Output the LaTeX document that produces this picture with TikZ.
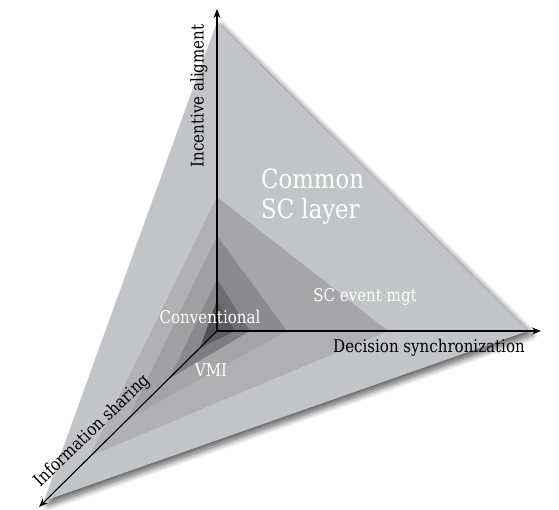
\documentclass[tikz,border=0pt]{standalone}
\usepackage{fontspec}
\setmainfont{DejaVu Serif}[FakeStretch=0.86]
\usetikzlibrary{arrows.meta,shadows.blur}

% shades of the nested layers, per face
\definecolor{lay1}{HTML}{C3C4C7}
\definecolor{ur2}{HTML}{A6A6A9}
\definecolor{ur3}{HTML}{8B8A8E}
\definecolor{ur4}{HTML}{6E6D71}
\definecolor{ur5}{HTML}{5A595D}
\definecolor{lf2}{HTML}{B1B1B4}
\definecolor{lf3}{HTML}{A0A0A3}
\definecolor{lf4}{HTML}{8A8A8D}
\definecolor{lf5}{HTML}{515054}
\definecolor{lo2}{HTML}{B0B0B3}
\definecolor{lo3}{HTML}{A5A5A8}
\definecolor{lo4}{HTML}{7E7E81}
\definecolor{lo5}{HTML}{5E5D61}

\tikzset{
  axis/.style={line width=1.1pt, -{Stealth[length=9pt,width=7pt]}},
  axislabel/.style={font=\fontsize{17.5}{20}\selectfont, text=black, inner sep=0pt},
  layerlabel/.style={font=\fontsize{17.5}{20}\selectfont, text=white, inner sep=0pt},
  biglabel/.style={font=\fontsize{26.5}{30}\selectfont, text=white, inner sep=0pt, align=left},
}

\begin{document}
\begin{tikzpicture}[x=1pt,y=-1pt]
\useasboundingbox (0,0) rectangle (559,510);

% axis origin and layer corners (top, right, lower-left)
\coordinate (O) at (217,331);
\coordinate (T1) at (217,22);  \coordinate (R1) at (528,331); \coordinate (D1) at (44,501);
\coordinate (T2) at (217,197); \coordinate (R2) at (388,331); \coordinate (D2) at (90,456);
\coordinate (T3) at (217,236); \coordinate (R3) at (287,331); \coordinate (D3) at (128,419);
\coordinate (T4) at (217,279); \coordinate (R4) at (250,331); \coordinate (D4) at (170,378);
\coordinate (T5) at (217,300); \coordinate (R5) at (235,331); \coordinate (D5) at (200,348);

% outer layer with its soft shadow
\fill[lay1, blur shadow={shadow xshift=4pt, shadow yshift=-4pt, shadow blur radius=6pt,
      shadow blur steps=12, shadow opacity=65}] (T1) -- (R1) -- (D1) -- cycle;

% inner layers, one face at a time
\foreach \i in {2,...,5}{
  \fill[ur\i] (O) -- (T\i) -- (R\i) -- cycle;
  \fill[lf\i] (O) -- (T\i) -- (D\i) -- cycle;
  \fill[lo\i] (O) -- (R\i) -- (D\i) -- cycle;
}

% axes
\coordinate (Ty) at (217,9);
\coordinate (Tx) at (541,331);
\coordinate (Tz) at (39,507);
\draw[axis] (O) -- (Ty);
\draw[axis] (O) -- (Tx);
\draw[axis] (O) -- (Tz);

% labels
\node[axislabel, rotate=90] (ia) at (199,96) {Incentive aligment};
\node[axislabel] (ds) at (429,348) {Decision synchronization};
\node[axislabel, rotate=44] (is) at (92,431) {Information sharing};
\node[biglabel, anchor=west] (csc) at (261,197) {Common\\SC layer};
\node[layerlabel] (sce) at (365,297) {SC event mgt};
\node[layerlabel] (con) at (210,317) {Conventional};
\node[layerlabel] (vmi) at (211,370) {VMI};
\end{tikzpicture}
\end{document}
